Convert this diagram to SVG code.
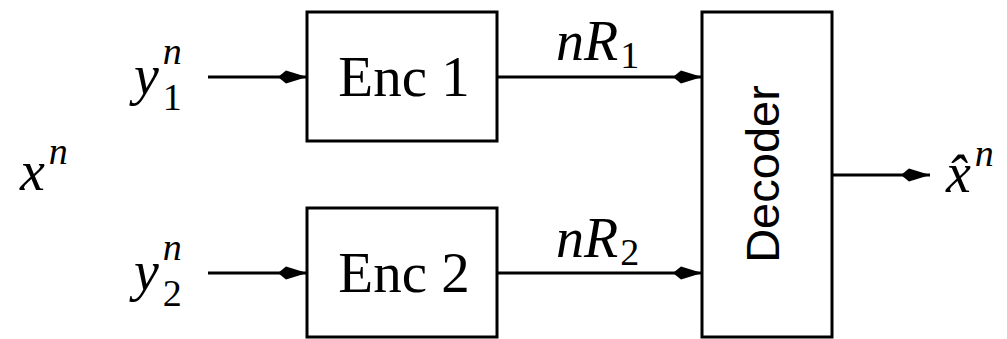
<svg xmlns="http://www.w3.org/2000/svg" width="1007" height="339" viewBox="0 0 1007 339">
<style>
.box{fill:none;stroke:#000;stroke-width:3}
.ln{stroke:#000;stroke-width:3;fill:none}
.rm{font-family:"Liberation Serif",serif;font-size:57px;fill:#000}
.mi{font-family:"Liberation Serif",serif;font-style:italic;font-size:56px;fill:#000}
.sup{font-family:"Liberation Serif",serif;font-style:italic;font-size:38px}
.sub{font-family:"Liberation Serif",serif;font-style:normal;font-size:38px}
.sf{font-family:"Liberation Sans",Arial,sans-serif;font-size:47px;fill:#000}
</style>
<defs>
<marker id="ah" markerWidth="30" markerHeight="16" refX="29" refY="8" orient="auto" markerUnits="userSpaceOnUse">
<path d="M0,8 L8,1.5 L29,8 L8,14.5 Z" fill="#000"/>
</marker>
</defs>
<g id="enc1">
<rect class="box" x="307" y="12" width="190" height="129"/>
<text class="rm" x="404" y="96" text-anchor="middle">Enc 1</text>
</g>
<g id="enc2">
<rect class="box" x="307" y="208" width="190" height="129"/>
<text class="rm" x="404" y="292" text-anchor="middle">Enc 2</text>
</g>
<g id="decoder">
<rect class="box" x="702" y="12" width="130" height="325"/>
<text class="sf" transform="translate(779,174) rotate(-90)" text-anchor="middle">Decoder</text>
</g>
<g id="labels">
<text class="mi" x="134" y="94">y<tspan class="sup" dx="4" dy="-30">n</tspan><tspan class="sub" dx="-19" dy="46">1</tspan></text>
<text class="mi" x="134" y="290">y<tspan class="sup" dx="4" dy="-30">n</tspan><tspan class="sub" dx="-19" dy="46">2</tspan></text>
<text class="mi" x="20" y="190">x<tspan class="sup" dx="4" dy="-26">n</tspan></text>
<text class="mi" x="946" y="192">x̂<tspan class="sup" dx="4" dy="-26">n</tspan></text>
<text class="mi" x="556" y="60">nR<tspan class="sub" dx="2" dy="8">1</tspan></text>
<text class="mi" x="556" y="257">nR<tspan class="sub" dx="2" dy="8">2</tspan></text>
</g>
<g id="connectors">
<line class="ln" x1="208" y1="77" x2="307" y2="77" marker-end="url(#ah)"/>
<line class="ln" x1="208" y1="273" x2="307" y2="273" marker-end="url(#ah)"/>
<line class="ln" x1="497" y1="77" x2="702" y2="77" marker-end="url(#ah)"/>
<line class="ln" x1="497" y1="273" x2="702" y2="273" marker-end="url(#ah)"/>
<line class="ln" x1="832" y1="175" x2="930" y2="175" marker-end="url(#ah)"/>
</g>
</svg>
